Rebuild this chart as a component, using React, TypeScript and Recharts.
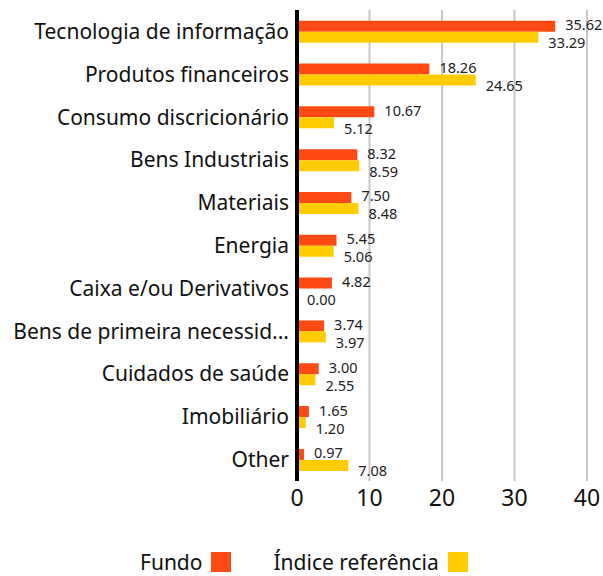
import React from 'react'
import { Bar, BarChart, CartesianGrid, LabelList, XAxis, YAxis } from 'recharts'

const categories = [
  'Tecnologia de informação',
  'Produtos financeiros',
  'Consumo discricionário',
  'Bens Industriais',
  'Materiais',
  'Energia',
  'Caixa e/ou Derivativos',
  'Bens de primeira necessidade',
  'Cuidados de saúde',
  'Imobiliário',
  'Other',
]
const fundo = [35.62, 18.26, 10.67, 8.32, 7.5, 5.45, 4.82, 3.74, 3.0, 1.65, 0.97]
const indice = [33.29, 24.65, 5.12, 8.59, 8.48, 5.06, 0.0, 3.97, 2.55, 1.2, 7.08]
const xTicks = [0, 10, 20, 30, 40]

const ORANGE = '#FF4A14'
const YELLOW = '#FFCC00'
const FONT = '"Noto Sans", sans-serif'

const data = categories.map((name, i) => ({ name, fundo: fundo[i], indice: indice[i] }))

const shorten = (s: string) => (s.length > 25 ? s.slice(0, 25) + '...' : s)

// zero values still need a (invisible) bar so their label is drawn
const tinyForZero = (v: any) => (v === 0 ? 0.01 : 0)

function valueLabel(dy: number) {
  return (props: any) => {
    const { x, y, width, height, value } = props
    return (
      <text
        x={x + width + 10}
        y={y + height / 2 + dy}
        fontSize={14.5}
        fill="#222"
        fontFamily={FONT}
        dominantBaseline="central"
      >
        {Number(value).toFixed(2)}
      </text>
    )
  }
}

function Legend() {
  const item = (label: string, color: string) => (
    <div style={{ display: 'flex', alignItems: 'center', gap: 9 }}>
      <span>{label}</span>
      <span style={{ width: 20, height: 20, background: color, display: 'inline-block' }} />
    </div>
  )
  return (
    <div
      style={{
        position: 'absolute',
        top: 550,
        left: 140,
        display: 'flex',
        gap: 42,
        fontFamily: FONT,
        fontSize: 21,
        color: '#111',
        lineHeight: '24px',
      }}
    >
      {item('Fundo', ORANGE)}
      {item('Índice referência', YELLOW)}
    </div>
  )
}

export default function App() {
  return (
    <div style={{ position: 'absolute', left: 0, top: 0, width: 603, height: 576, background: '#fff' }}>
      <BarChart
        width={603}
        height={520}
        data={data}
        layout="vertical"
        margin={{ top: 10, right: 16, bottom: 0, left: 0 }}
        barCategoryGap="25%"
        barGap={0}
      >
        <CartesianGrid horizontal={false} stroke="#c8c8c8" strokeWidth={2} />
        <XAxis
          type="number"
          domain={[0, 40]}
          ticks={xTicks}
          axisLine={false}
          tickLine={false}
          tick={{ fontSize: 23, fill: '#111', fontFamily: FONT }}
          tickMargin={3}
          height={39}
        />
        <YAxis
          type="category"
          dataKey="name"
          width={297}
          axisLine={{ stroke: '#000', strokeWidth: 4 }}
          tickLine={false}
          tickSize={6}
          tickMargin={2}
          tickFormatter={shorten}
          tick={{ fontSize: 21, fill: '#111', fontFamily: FONT }}
        />
        <Bar dataKey="fundo" fill={ORANGE} isAnimationActive={false}>
          <LabelList dataKey="fundo" content={valueLabel(-2)} />
        </Bar>
        <Bar dataKey="indice" fill={YELLOW} minPointSize={tinyForZero} isAnimationActive={false}>
          <LabelList dataKey="indice" content={valueLabel(5)} />
        </Bar>
      </BarChart>
      <Legend />
    </div>
  )
}
